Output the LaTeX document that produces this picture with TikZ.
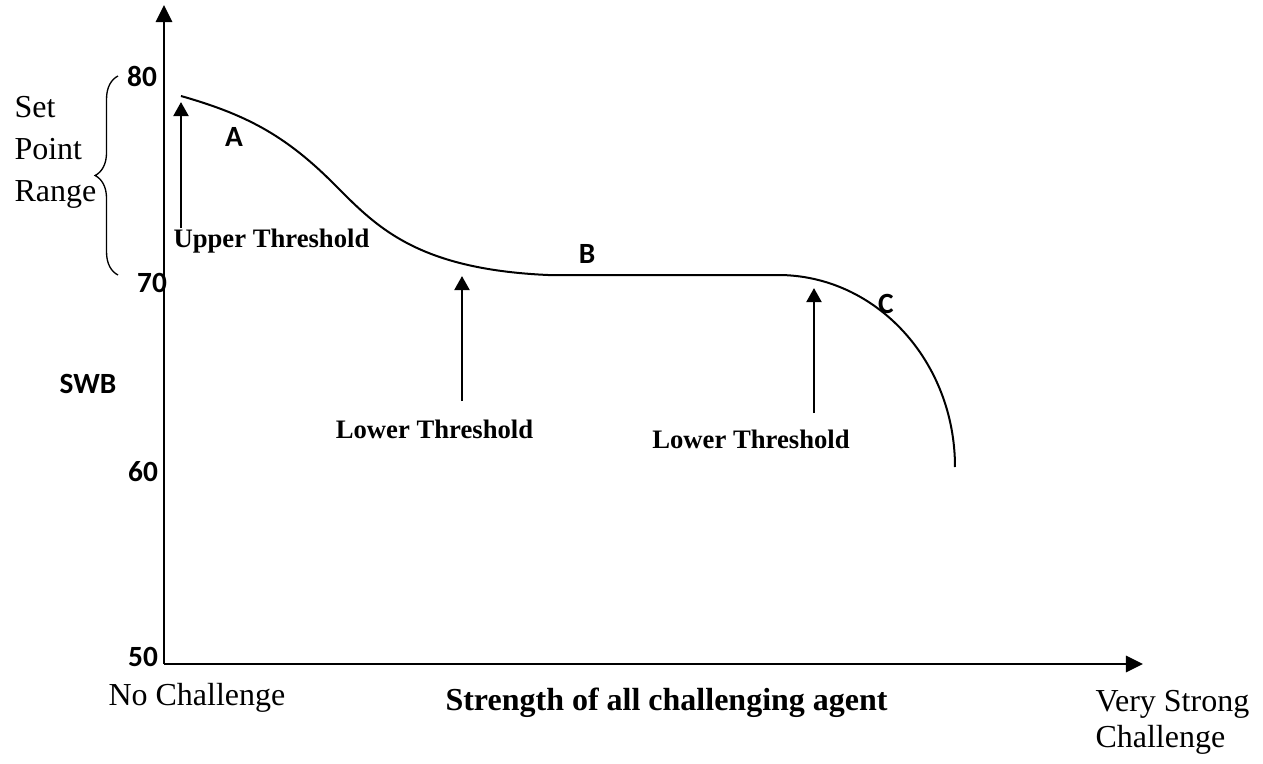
\documentclass[tikz,border=0pt]{standalone}
\usepackage{fontspec}
\setmainfont{Liberation Serif}
\newfontfamily\numfont{Carlito}
\usetikzlibrary{arrows.meta,decorations.pathreplacing}

\begin{document}
\begin{tikzpicture}[x = 37.5pt, y = 37.5pt,
    tick/.style = {font = \numfont\bfseries\fontsize{11}{13}\selectfont, inner sep = 0pt},
    thr/.style = {font = \bfseries\fontsize{10}{12}\selectfont, inner sep = 0pt},
    up/.style = {line width = 1pt, -{Triangle[length = 5.3pt, width = 5.6pt]}}]
    \useasboundingbox (-1.64,-0.99) rectangle (10.99,6.64);
    % axes
    \draw [line width = 1.1pt, -{Triangle[length = 6.4pt, width = 6pt]}] (0,0) -- (0,6.59);
    \draw [line width = 1.1pt, -{Triangle[length = 6.4pt, width = 6pt]}] (0,0) -- (9.79,0);
    \foreach \v/\x/\y in {80/-0.22/5.88, 70/-0.12/3.81, 60/-0.21/1.92, 50/-0.21/0.07} {
      \node [tick] (tick\v) at (\x, \y) {\v};
    }
    \node [tick] (swb) at (-0.76, 2.80) {SWB};
    % set point range
    \draw [decorate, decoration = {brace, amplitude = 8.6pt}, line width = .5pt]
      (-0.46, 3.89) -- (-0.46, 5.88);
    \node [anchor = north west, align = left, inner sep = 0pt,
      font = \fontsize{12}{15.75}\selectfont] (range) at (-1.50, 5.68)
      {Set\\Point\\Range};
    % curve
    \draw [line width = .75pt] (0.17,5.68)
      .. controls (0.8,5.5) and (1.2,5.3) .. (1.69,4.81)
      .. controls (2.11,4.39) and (2.5,3.95) .. (3.84,3.89) -- (6.14,3.89)
      .. controls (7.12,3.89) and (7.91,3.03) .. (7.91,1.97);
    \node [tick] (ptA) at (0.70, 5.27) {A};
    \node [tick] (ptB) at (4.23, 4.10) {B};
    \node [tick] (ptC) at (7.22, 3.60) {C};
    % thresholds
    \node [thr, anchor = base west] (upper) at (0.09, 4.17) {Upper Threshold};
    \node [thr, anchor = base] (lowerB) at (2.705, 2.26) {Lower Threshold};
    \node [thr, anchor = base] (lowerC) at (5.87, 2.16) {Lower Threshold};
    \foreach \n/\x/\ya/\yb in {up/0.17/4.36/5.62, lb/2.98/2.63/3.88, lc/6.50/2.51/3.76} {
      \draw [up] (\x, \ya) coordinate (\n0) -- (\x, \yb) coordinate (\n1);
    }
    % x axis labels
    \node [anchor = base west, inner sep = 0pt, font = \fontsize{12}{14}\selectfont]
      (none) at (-0.56, -0.41) {No Challenge};
    \node [anchor = base west, inner sep = 0pt, font = \bfseries\fontsize{12}{14}\selectfont]
      (xlabel) at (2.81, -0.46) {Strength of all challenging agent};
    \node [anchor = north west, align = left, inner sep = 0pt,
      font = \fontsize{12}{13.5}\selectfont] (strong) at (9.31, -0.26)
      {Very Strong\\Challenge};
  \end{tikzpicture}
\end{document}
